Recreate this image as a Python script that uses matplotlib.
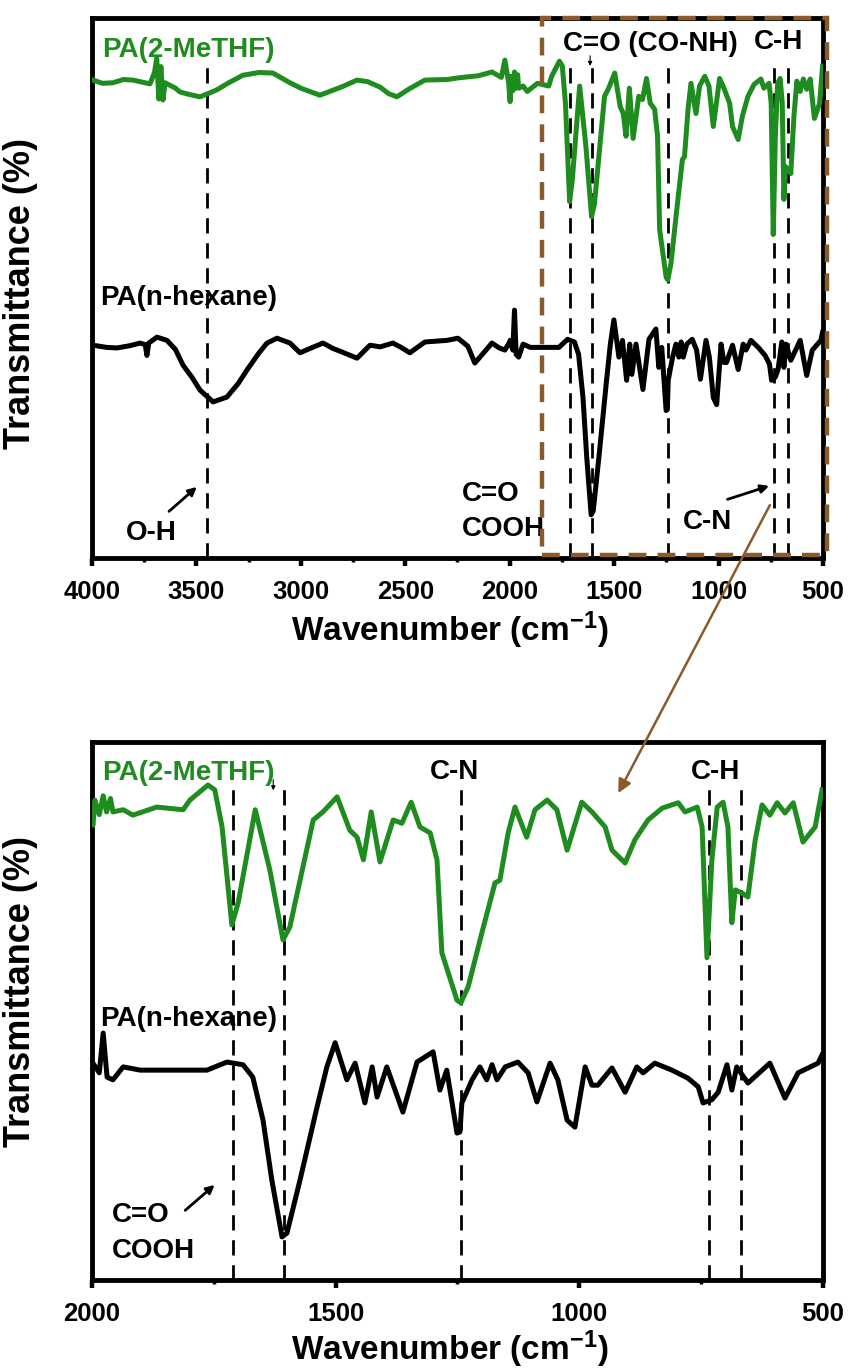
import numpy as np
import matplotlib
matplotlib.use("Agg")
import matplotlib.pyplot as plt
from matplotlib.ticker import MultipleLocator
from matplotlib.patches import Rectangle, ConnectionPatch

plt.rcParams['font.family'] = ['Liberation Sans', 'DejaVu Sans']
plt.rcParams['font.weight'] = 'bold'
plt.rcParams['mathtext.fontset'] = 'custom'
plt.rcParams['mathtext.rm'] = 'Liberation Sans:bold'
plt.rcParams['mathtext.bf'] = 'Liberation Sans:bold'
plt.rcParams['mathtext.default'] = 'bf'

# FTIR spectra (wavenumber cm-1, transmittance offset, a.u.)
wn_green = [3995, 3950, 3900, 3850, 3804, 3722, 3700, 3690, 3680, 3670, 3660, 3650,
            3600, 3579, 3530, 3483, 3450, 3402, 3350, 3277, 3200, 3134, 3052, 3000,
            2909, 2800, 2731, 2680, 2621, 2580, 2540, 2480, 2406, 2300, 2248, 2150,
            2085, 2040, 2023, 2005, 1998, 1994, 1985, 1977, 1970, 1962, 1957, 1936,
            1916, 1867, 1813, 1799, 1762, 1748, 1733, 1713, 1700, 1665, 1635, 1608,
            1594, 1567, 1546, 1526, 1497, 1471, 1456, 1443, 1427, 1409, 1382, 1364,
            1345, 1327, 1306, 1292, 1282, 1251, 1243, 1228, 1200, 1173, 1163, 1146,
            1132, 1108, 1091, 1066, 1046, 1025, 995, 974, 947, 933, 906, 886, 859, 830,
            797, 783, 758, 748, 738, 728, 717, 705, 695, 687, 680, 666, 654, 639, 625,
            609, 594, 578, 561, 541, 516, 502]
t_green = [88.5, 87.9, 88.0, 88.6, 88.5, 87.8, 90.0, 92.6, 85.0, 91.0, 84.8, 88.0,
           87.0, 86.3, 85.8, 85.4, 85.9, 86.7, 87.9, 89.4, 89.9, 89.8, 88.0, 87.0,
           85.7, 87.3, 88.5, 88.2, 87.2, 86.0, 85.4, 86.9, 88.5, 88.6, 88.9, 89.3,
           90.0, 89.0, 92.2, 88.0, 84.5, 89.2, 86.5, 90.0, 87.0, 89.5, 87.0, 87.4,
           86.4, 87.9, 87.4, 89.2, 92.0, 91.1, 84.2, 66.0, 70.1, 87.4, 76.2, 63.2,
           65.6, 76.8, 85.5, 87.0, 89.8, 83.6, 82.3, 78.1, 87.0, 77.7, 85.5, 84.9,
           88.8, 84.2, 83.1, 78.1, 60.8, 52.0, 51.5, 54.5, 64.5, 73.8, 74.3, 83.1,
           87.9, 82.3, 87.4, 89.2, 87.4, 79.9, 88.8, 87.0, 84.2, 79.9, 77.5, 81.8, 85.5, 87.7,
           88.7, 87.0, 87.9, 84.2, 59.9, 78.1, 87.9, 88.8, 84.2, 66.4, 72.5, 71.9, 71.2, 81.8, 88.3,
           86.4, 88.7, 86.8, 88.7, 81.4, 84.2, 91.1]

wn_black = [3995, 3930, 3880, 3820, 3770, 3745, 3737, 3728, 3689, 3641, 3600, 3564,
            3520, 3483, 3420, 3354, 3300, 3258, 3200, 3162, 3114, 3052, 3004, 2956,
            2894, 2846, 2800, 2731, 2669, 2620, 2559, 2520, 2478, 2406, 2300, 2248,
            2200, 2167, 2120, 2085, 2050, 2023, 2000, 1998, 1985, 1977, 1969, 1957,
            1936, 1901, 1834, 1764, 1723, 1690, 1670, 1649, 1631, 1610, 1600, 1573,
            1538, 1518, 1501, 1477, 1460, 1440, 1425, 1415, 1395, 1362, 1333, 1300,
            1286, 1272, 1251, 1245, 1241, 1220, 1204, 1190, 1179, 1169, 1152, 1126,
            1105, 1087, 1060, 1044, 1025, 1009, 988, 974, 962, 933, 906, 882, 869, 845,
            810, 777, 756, 746, 728, 715, 697, 687, 677, 654, 609, 578, 551, 510, 502]
t_black = [39.4, 39.0, 38.9, 39.3, 39.8, 39.5, 37.5, 39.8, 40.9, 40.3, 38.6, 35.7,
           33.4, 31.1, 28.9, 29.8, 32.3, 34.8, 38.0, 39.8, 40.7, 39.8, 38.0, 38.8,
           39.8, 38.8, 38.1, 37.0, 39.4, 39.1, 39.8, 39.0, 38.0, 40.0, 40.3, 40.7,
           39.2, 36.1, 38.2, 39.8, 38.9, 38.5, 40.0, 40.3, 38.5, 45.9, 37.7, 37.2,
           39.6, 39.0, 39.0, 39.0, 40.5, 40.0, 37.7, 29.7, 18.6, 8.0, 8.7, 18.6,
           32.2, 39.6, 44.1, 37.2, 40.3, 32.9, 39.6, 34.0, 39.6, 31.2, 40.5, 42.4,
           35.3, 39.0, 27.3, 27.5, 32.9, 37.2, 39.6, 37.2, 40.0, 37.2, 39.6, 40.5,
           38.5, 33.1, 40.3, 37.2, 29.7, 28.4, 39.6, 36.2, 36.2, 39.4, 34.9, 39.6, 38.5, 40.3,
           39.0, 37.5, 35.9, 32.9, 33.5, 34.9, 40.0, 35.3, 39.6, 36.6, 40.3, 33.8, 38.5, 40.3, 41.8]

peak_lines = [3450, 1710, 1605, 1243, 733, 668]

green = '#1f8c1f'
brown = '#8b5a2b'

fig = plt.figure(figsize=(8.5, 13.72), dpi=100)
ax1 = fig.add_axes([0.1082, 0.5933, 0.86, 0.3936])
ax2 = fig.add_axes([0.1082, 0.0671, 0.86, 0.3921])


def style(ax, xmax, lpad):
    ax.set_xlim(xmax, 500)
    ax.set_ylim(0, 100)
    ax.xaxis.set_major_locator(MultipleLocator(500))
    ax.xaxis.set_minor_locator(MultipleLocator(250))
    ax.set_yticks([])
    for s in ax.spines.values():
        s.set_linewidth(3.5)
    ax.tick_params(axis='x', which='major', direction='out', length=6, width=3.2,
                   labelsize=18.5, pad=10)
    ax.tick_params(axis='x', which='minor', direction='out', length=3, width=2.5)
    for lab in ax.get_xticklabels():
        lab.set_fontweight('bold')
    ax.set_xlabel('Wavenumber (cm$^{-1}$)', fontsize=24, fontweight='bold', labelpad=lpad)
    ax.xaxis.label.set_x(0.49)
    ax.set_ylabel('Transmittance (%)', fontsize=26, fontweight='bold')
    for p in peak_lines:
        if p <= xmax:
            ax.axvline(p, ymin=0, ymax=0.915, color='k', lw=2.0, ls=(0, (5.5, 3.5)), zorder=1)
    ax.plot(wn_green, t_green, color=green, lw=3.6, zorder=3)
    ax.plot(wn_black, t_black, color='k', lw=3.6, zorder=3)


style(ax1, 4000, 4)
style(ax2, 2000, 2)
ax1.yaxis.set_label_coords(-0.074, 0.49)
ax2.yaxis.set_label_coords(-0.074, 0.537)

fs = 20
# top panel labels
ax1.text(3952, 94.1, 'PA(2-MeTHF)', color=green, fontsize=fs, fontweight='bold', va='center')
ax1.text(3960, 48.1, 'PA(n-hexane)', color='k', fontsize=fs, fontweight='bold', va='center')
ax1.text(1745, 95.2, 'C=O (CO-NH)', fontsize=fs, fontweight='bold', va='center')
ax1.text(711, 95.6, 'C-H', fontsize=fs, fontweight='bold', va='center', ha='center')
ax1.text(3718, 4.6, 'O-H', fontsize=fs, fontweight='bold', va='center', ha='center')
ax1.text(2229, 8.6, 'C=O\nCOOH', fontsize=fs, fontweight='bold', va='center',
         linespacing=1.45)
ax1.text(1171, 6.7, 'C-N', fontsize=fs, fontweight='bold', va='center')
ax1.annotate('', xy=(3488, 13.5), xytext=(3641, 8.3),
             arrowprops=dict(arrowstyle='-|>', color='k', lw=2, mutation_scale=12))
ax1.annotate('', xy=(745, 13.5), xytext=(970, 10.7),
             arrowprops=dict(arrowstyle='-|>', color='k', lw=2, mutation_scale=12))
ax1.annotate('', xy=(1615, 90.6), xytext=(1615, 93.5),
             arrowprops=dict(arrowstyle='-|>', color='k', lw=0.8, mutation_scale=6))

# bottom panel labels
ax2.text(1979, 94.2, 'PA(2-MeTHF)', color=green, fontsize=fs, fontweight='bold', va='center')
ax2.text(1984, 48.5, 'PA(n-hexane)', color='k', fontsize=fs, fontweight='bold', va='center')
ax2.text(1257, 94.4, 'C-N', fontsize=fs, fontweight='bold', va='center', ha='center')
ax2.text(720, 94.4, 'C-H', fontsize=fs, fontweight='bold', va='center', ha='center')
ax2.text(1959, 8.7, 'C=O\nCOOH', fontsize=fs, fontweight='bold', va='center',
         linespacing=1.5)
ax2.annotate('', xy=(1744, 18.0), xytext=(1813, 12.6),
             arrowprops=dict(arrowstyle='-|>', color='k', lw=2, mutation_scale=12))
ax2.annotate('', xy=(1628, 90.5), xytext=(1628, 93.5),
             arrowprops=dict(arrowstyle='-|>', color='k', lw=0.8, mutation_scale=6))

# zoom box and connecting arrow
rect = Rectangle((1846, 0.55), 481 - 1846, 99.45, fill=False, edgecolor=brown, lw=3.2,
                 ls=(0, (4, 2.5)), clip_on=False, zorder=5)
ax1.add_patch(rect)
con = ConnectionPatch(xyA=(754, 9.8), coordsA=ax1.transData,
                      xyB=(920, 90.5), coordsB=ax2.transData,
                      arrowstyle='-|>', color=brown, lw=1.8, mutation_scale=20)
fig.add_artist(con)

fig.savefig('out.png', dpi=100)
